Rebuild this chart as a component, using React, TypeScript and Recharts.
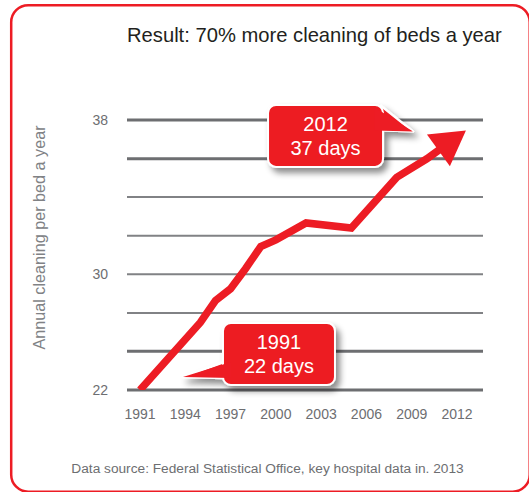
import { LineChart, Line, XAxis, YAxis, CartesianGrid, ReferenceDot } from 'recharts'

const years = [1991, 1995, 1996, 1997, 1998, 1999, 2000, 2002, 2005, 2008, 2010, 2012]
const cleanings = [22, 26.0, 27.3, 28.0, 29.2, 30.5, 30.9, 31.9, 31.6, 34.6, 35.7, 37]
const xTicks = [1991, 1994, 1997, 2000, 2003, 2006, 2009, 2012]
const yTicks = [22, 24.29, 26.57, 28.86, 31.14, 33.43, 35.71, 38]
const yTickLabels = ['22', '', '', '30', '', '', '', '38']
const calloutYears = [1991, 2012]
const calloutValues = [22, 37]
const calloutTexts = [
  ['1991', '22 days'],
  ['2012', '37 days'],
]

const RED = '#ed1c24'
const GRAY = '#6d6e71'
const FONT = '"Liberation Sans", Arial, sans-serif'

const data = years.map((year, i) => ({ year, value: cleanings[i] }))

function ArrowHead(props: any) {
  const { cx, cy, index, points } = props
  if (index !== data.length - 1 || cx == null) return <g key={`dot-${index}`} />
  const prev = points?.[index - 1]
  let dx = prev ? cx - prev.x : 28
  let dy = prev ? cy - prev.y : -19
  const len = Math.hypot(dx, dy) || 1
  dx /= len
  dy /= len
  const tip = [cx + dx * 11, cy + dy * 11]
  const bx = cx - dx * 23
  const by = cy - dy * 23
  const half = 19.5
  const p1 = [bx - dy * half, by + dx * half]
  const p2 = [bx + dy * half, by - dx * half]
  return (
    <polygon
      key={`dot-${index}`}
      points={`${tip[0]},${tip[1]} ${p1[0]},${p1[1]} ${p2[0]},${p2[1]}`}
      fill={RED}
    />
  )
}

// callout box with a little tail pointing back toward the data point
function Callout(props: any) {
  const { cx, cy, which } = props
  if (cx == null) return null
  const lines = calloutTexts[which]
  const w = which === 0 ? 112 : 115
  const h = 62
  let rx: number, ry: number, tail: number[][], cover: number[][]
  if (which === 0) {
    rx = cx + 83
    ry = cy - 67
    tail = [[rx + 1, cy - 28], [cx + 43, cy - 13], [rx + 1, cy - 12]]
    cover = [[rx + 8, cy - 28], [cx + 43, cy - 13], [rx + 8, cy - 12]]
  } else {
    rx = cx - 189
    ry = cy - 32
    tail = [[rx + w - 2, cy - 31], [cx - 44, cy - 5.5], [rx + w - 1, cy - 6.5]]
    cover = [[rx + w - 9, cy - 30], [cx - 44, cy - 5.5], [rx + w - 9, cy - 6.5]]
  }
  const pts = (a: number[][]) => a.map(p => p.join(',')).join(' ')
  return (
    <g>
      <g filter="url(#calloutShadow)">
        <polygon points={pts(tail)} fill={RED} stroke="#fff" strokeWidth={2.5} strokeLinejoin="round" />
        <rect x={rx} y={ry} width={w} height={h} rx={8} fill={RED} stroke="#fff" strokeWidth={2} />
      </g>
      <polygon points={pts(cover)} fill={RED} />
      <text x={rx + w / 2} y={ry + 26} textAnchor="middle" fill="#fff" fontSize={20} fontFamily={FONT}>
        {lines[0]}
      </text>
      <text x={rx + w / 2} y={ry + 50} textAnchor="middle" fill="#fff" fontSize={20} fontFamily={FONT}>
        {lines[1]}
      </text>
    </g>
  )
}

function GridLine(props: any) {
  const { x1, x2, y1, y2, index } = props
  const thick = index != null && (index <= 1 || index >= 6)
  return (
    <line
      key={`grid-${index}`}
      x1={x1}
      x2={x2}
      y1={y1}
      y2={y2}
      stroke={thick ? GRAY : '#818285'}
      strokeWidth={thick ? 3 : 2}
    />
  )
}

export default function App() {
  return (
    <div style={{ position: 'absolute', left: 0, top: 0, width: 529, height: 492, background: '#fff' }}>
      <LineChart
        width={529}
        height={492}
        data={data}
        margin={{ top: 120, right: 46, bottom: 72, left: 0 }}
      >
        <defs>
          <filter id="calloutShadow" x="-30%" y="-30%" width="170%" height="170%">
            <feDropShadow dx={4} dy={5} stdDeviation={3} floodColor="#000" floodOpacity={0.45} />
          </filter>
        </defs>
        <rect x={11.2} y={5.2} width={518.5} height={486.5} rx={17} fill="none" stroke={RED} strokeWidth={2.5} />
        <text x={127} y={41.7} fontSize={20.2} fill="#231f20" fontFamily={FONT}>
          Result: 70% more cleaning of beds a year
        </text>
        <text
          x={45}
          y={237.5}
          transform="rotate(-90 45 237.5)"
          textAnchor="middle"
          fontSize={16.2}
          fill="#808285"
          fontFamily={FONT}
        >
          Annual cleaning per bed a year
        </text>
        <text x={267.5} y={472.7} textAnchor="middle" fontSize={13.7} fill={GRAY} fontFamily={FONT}>
          Data source: Federal Statistical Office, key hospital data in. 2013
        </text>
        <CartesianGrid vertical={false} horizontal={(p: any) => <GridLine {...p} />} />
        <XAxis
          dataKey="year"
          type="number"
          domain={[1990.14, 2013.72]}
          ticks={xTicks}
          interval={0}
          allowDataOverflow
          axisLine={false}
          tickLine={false}
          tickSize={0}
          tickMargin={19}
          height={30}
          tick={{ fill: GRAY, fontSize: 14, fontFamily: FONT }}
        />
        <YAxis
          type="number"
          domain={[22, 38]}
          ticks={yTicks}
          interval={0}
          allowDataOverflow
          axisLine={false}
          tickLine={false}
          tickSize={0}
          tickMargin={19}
          width={127}
          tickFormatter={(_v: number, i: number) => yTickLabels[i]}
          tick={{ fill: GRAY, fontSize: 14, fontFamily: FONT }}
        />
        <Line
          type="linear"
          dataKey="value"
          stroke={RED}
          strokeWidth={7.5}
          dot={(p: any) => <ArrowHead {...p} />}
          activeDot={false}
          isAnimationActive={false}
        />
        {calloutYears.map((yr, i) => (
          <ReferenceDot
            key={yr}
            x={yr}
            y={calloutValues[i]}
            r={0}
            ifOverflow="visible"
            shape={(p: any) => <Callout {...p} which={i} />}
          />
        ))}
      </LineChart>
    </div>
  )
}
